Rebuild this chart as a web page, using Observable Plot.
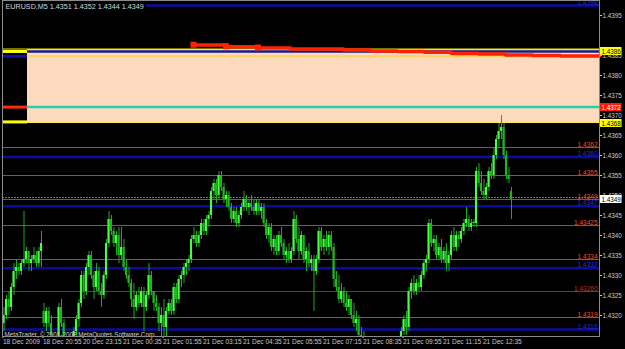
<!DOCTYPE html>
<html><head><meta charset="utf-8">
<script src="https://cdn.jsdelivr.net/npm/d3@7"></script>
<script src="https://cdn.jsdelivr.net/npm/@observablehq/plot@0.6"></script>
<style>html,body{margin:0;padding:0;background:#000;overflow:hidden}#chart{width:625px;height:349px}</style>
</head><body><div id="chart"></div>
<script>
// ---------- data ----------
const symbolName = "EURUSD,M5";
const headerOHLC = [1.4351, 1.4352, 1.4344, 1.4349];
const copyright = "MetaTrader, © 2001-2008 MetaQuotes Software Corp.";
// candle prices in pips above 1.4300, one per M5 bar
const basePrice = 1.4300;
const openPips = [18,20,24,22,27,31,32,31,33,34, 36,33,34,35,33,36,21,18,21,18, 14,12,14,22,18,14,12,11,12,16,
 19,23,30,26,32,35,30,27,31,26, 25,30,38,44,41,38,40,35,37,32, 30,28,24,22,25,23,26,22,25,30,
 26,23,22,18,20,17,21,23,21,27, 24,29,30,32,33,34,39,40,38,40, 43,41,44,45,51,53,50,55,52,49,
 50,47,44,46,43,45,47,49,47,48, 47,46,48,46,47,43,40,42,37,39, 36,40,38,35,36,34,36,44,39,36,
 40,34,36,33,34,31,34,41,37,39, 37,40,37,29,27,24,26,23,22,24, 20,18,19,15,13,14,11,10,9,10,
 11,12,10,9,10,12,11,12,13,12, 16,19,17,26,28,26,28,27,30,33, 34,43,38,39,35,37,34,36,33,35,
 40,37,40,39,41,43,44,42,43,43, 56,53,51,50,52,56,55,60,64,66, 67,60,55,51];
const highPips = [22,25,26,28,33,34,33,34,46,37, 36,35,37,36,37,41,23,22,22,20, 14,14,23,24,19,14,13,13,17,20,
 24,31,31,33,36,36,31,33,32,28, 31,39,46,45,42,41,42,42,39,34, 32,29,28,26,27,27,27,26,33,31,
 26,25,23,22,24,22,24,24,28,28, 30,31,33,34,35,40,42,41,41,44, 44,45,46,52,54,54,56,56,53,51,
 51,48,47,47,46,48,51,50,49,50, 49,49,49,48,48,44,43,43,40,40, 41,42,39,37,38,37,46,45,42,41,
 40,37,38,35,35,35,42,42,40,41, 41,41,38,31,30,28,27,26,25,24, 23,21,20,17,16,14,13,12,11,12,
 13,13,12,11,13,13,13,14,14,17, 20,21,27,29,30,29,30,31,34,35, 44,44,40,40,38,39,37,38,36,41,
 42,41,41,42,44,47,45,44,44,57, 58,56,54,53,57,58,62,65,68,70, 68,61,57,52];
const lowPips = [16,19,20,21,25,29,30,30,32,33, 31,31,33,32,32,32,17,16,17,14, 11,10,13,17,13,10,9,9,10,15,
 17,22,24,25,30,29,24,26,25,22, 24,29,37,40,37,35,33,34,31,29, 27,22,19,21,22,22,16,21,24,25,
 21,21,16,13,14,12,20,20,20,23, 23,27,28,30,31,33,38,37,37,39, 40,40,42,44,49,48,49,51,48,47,
 46,43,43,42,42,44,46,46,45,46, 45,45,45,44,42,39,38,36,35,35, 35,37,34,33,33,33,35,38,34,35,
 33,31,32,31,21,30,33,36,35,36, 35,36,27,26,23,23,22,21,20,19, 17,16,14,12,11,10,9,8,7,8,
 9,9,8,7,9,10,9,10,11,10, 15,15,16,24,25,25,26,26,29,31, 33,37,36,34,34,33,33,31,31,34,
 36,36,37,38,40,42,41,41,42,42, 52,50,49,49,51,54,54,59,62,64, 59,54,53,44];
const closePips = [20,24,22,27,31,32,31,33,34,36, 33,34,35,33,36,38,18,21,18,15, 12,13,22,18,14,12,11,12,16,19,
 23,30,26,32,35,30,27,31,26,25, 30,38,44,41,38,40,35,37,32,30, 28,24,22,25,23,26,22,25,30,26,
 23,22,18,20,17,21,23,21,27,24, 29,30,32,33,34,39,40,38,40,43, 41,44,45,51,53,50,55,52,49,50,
 47,44,46,43,45,47,49,47,48,47, 46,48,46,47,43,40,42,37,39,36, 40,38,35,36,34,36,44,39,36,40,
 34,36,33,34,31,34,41,37,39,37, 40,37,29,27,24,26,23,22,24,20, 18,19,15,13,14,11,10,9,10,11,
 12,10,9,10,12,11,12,13,12,16, 19,17,26,28,26,28,27,30,33,34, 43,38,39,35,37,34,36,33,35,40,
 37,40,39,41,43,44,42,43,43,56, 53,51,50,52,56,55,60,64,66,67, 60,55,54,49];

// time axis: a label every 16 bars
const timeTickBars = [0,16,32,48,64,80,96,112,128,144,160,176,192];
const timeLabels = ["18 Dec 2009","18 Dec 20:55","20 Dec 23:15","21 Dec 00:35","21 Dec 01:55","21 Dec 03:15",
 "21 Dec 04:35","21 Dec 05:55","21 Dec 07:15","21 Dec 08:35","21 Dec 09:55","21 Dec 11:15","21 Dec 12:35"];
// price axis labels
const priceTicks = [1.4395,1.4385,1.4380,1.4375,1.4370,1.4365,1.4360,1.4355,1.4350,1.4345,1.4340,1.4335,1.4330,1.4325,1.4320];

// rectangle object (anchored at a bar) and the lines crossing it
const zoneStartBar = 9.4;
const zoneTop = 1.43865, zoneBottom = 1.43680;
const zoneLinePrices = [1.43860, 1.43848, 1.43721, 1.43684];

// horizontal levels
const redLevels = [1.4362, 1.4355, 1.4349, 1.43425, 1.4334, 1.43195];
const redLabels = ["1.4362","1.4355","1.4349","1.43425","1.4334","1.4319"];
const darkRedLevels = [1.43260];
const darkRedLabels = ["1.43260"];
const blueLevels = [1.43975, 1.43596, 1.43473, 1.43318, 1.43165];
const blueLabels = ["1.4398","1.4360","1.4347","1.4332","1.4316"];
const bidPrice = 1.43495;

// slow moving average (red step line) and its markers
const maBars = [75.8, 89, 101.8, 114.6, 135.8, 146.6, 157.4, 168.2, 179, 189.8, 200.6, 211.4, 222.6, 238.2];
const maValues = [1.43876, 1.43872, 1.43869, 1.43866, 1.43864, 1.43861, 1.43860, 1.43858, 1.43855, 1.43854, 1.43851, 1.43850, 1.43849, 1.43849];
const maMarkBars = [75.8, 88.8, 101.6];
const maMarkValues = [1.43877, 1.43873, 1.43870];

// price tags on the right
const tagPrices = [1.4386, 1.4372, 1.4368, 1.4349];
const tagLabels = ["1.4386","1.4372","1.4368","1.4349"];

// ---------- styles ----------
const zoneLeftColors = ["#ffff00", "#1212a0", "#ff2a10", "#ffff00"];
const zoneInsideColors = ["#1b1b86", "#fdd46a", "#22d2b2", "#ffee33"];
const tagFills = ["#ffff00", "#ff1a00", "#ffff00", "#ffffff"];
const tagText = ["#000000", "#ffffff", "#000000", "#000000"];
const xDomain = [-0.6, 238.2];
const yDomain = [1.431475, 1.439875];
const tagBarsLeft = 238.4, tagBarsRight = 247.2, tagBarsMid = 242.8; // right margin, in bar units
const tagHalfHeight = 0.0001;
const FONT = "Liberation Sans, Arial, sans-serif";
const AXIS = "#c8c8c8";

// ---------- build ----------
const bars = openPips.map((o, i) => {
  const open = basePrice + o / 1e4, close = basePrice + closePips[i] / 1e4;
  const high = basePrice + highPips[i] / 1e4, low = basePrice + lowPips[i] / 1e4;
  const lo = Math.min(open, close), hi = Math.max(open, close);
  return {i, open, close, high: Math.max(high, hi), low: Math.min(low, lo),
          b1: lo, b2: hi === lo ? lo + 0.00003 : hi, up: close >= open};
});
const zoneLines = zoneLinePrices.map((p, k) => ({p, k}));
const ma = maBars.map((x, k) => ({x, y: maValues[k]}));
const maMarks = maMarkBars.map((x, k) => ({x, y: maMarkValues[k]}));
const redData = redLevels.map((p, k) => ({p, label: redLabels[k]}));
const darkRedData = darkRedLevels.map((p, k) => ({p, label: darkRedLabels[k]}));
const blueData = blueLevels.map((p, k) => ({p, label: blueLabels[k]}));
const tags = tagPrices.map((p, k) => ({p, label: tagLabels[k], k}));
const headerText = symbolName + " " + headerOHLC.map(v => v.toFixed(4)).join(" ");

const marks = [
  // zone rectangle
  Plot.rect([{a: zoneStartBar, t: zoneTop, b: zoneBottom}], {x1: "a", x2: xDomain[1], y1: "b", y2: "t", fill: "#fcdabd"}),
  ...zoneLines.map(d => Plot.ruleY([d], {y: "p", x1: xDomain[0], x2: zoneStartBar, stroke: zoneLeftColors[d.k], strokeWidth: 3})),
  ...zoneLines.map(d => Plot.ruleY([d], {y: "p", x1: zoneStartBar, x2: xDomain[1], stroke: zoneInsideColors[d.k], strokeWidth: d.k === 3 ? 1.5 : 2.5})),
  Plot.ruleY([zoneTop], {stroke: "#e8e800", strokeWidth: 1, dy: -0.5}),
  // levels
  Plot.ruleY(blueData, {y: "p", stroke: "#0c0ca0", strokeWidth: 2.5}),
  Plot.ruleY(redData, {y: "p", stroke: "#f02a10", strokeWidth: 1, shapeRendering: "crispEdges"}),
  Plot.ruleY(darkRedData, {y: "p", stroke: "#a02414", strokeWidth: 1, shapeRendering: "crispEdges"}),
  Plot.ruleY([bidPrice], {stroke: "#707070", strokeWidth: 1, strokeDasharray: "2,1", shapeRendering: "crispEdges"}),
  // moving average
  Plot.line(ma, {x: "x", y: "y", curve: "step-after", stroke: "#ff2200", strokeWidth: 3.5}),
  Plot.dot(maMarks, {x: "x", y: "y", symbol: "square", r: 3.4, fill: "#ff2200", stroke: "none"}),
  // candles
  Plot.ruleX(bars, {x: "i", y1: "low", y2: "high", stroke: "#22a822", strokeWidth: 1, clip: true}),
  Plot.rect(bars.filter(d => d.up), {x1: d => d.i - 0.42, x2: d => d.i + 0.42, y1: "b1", y2: "b2", fill: "#44ff44", clip: true}),
  Plot.rect(bars.filter(d => !d.up), {x1: d => d.i - 0.42, x2: d => d.i + 0.42, y1: "b1", y2: "b2", fill: "#1fb51f", clip: true}),
  // level labels
  Plot.text(redData, {y: "p", text: "label", frameAnchor: "right", textAnchor: "end", lineAnchor: "bottom", dx: -2, dy: -1, fill: "#e8502f", fontSize: 6.5}),
  Plot.text(darkRedData, {y: "p", text: "label", frameAnchor: "right", textAnchor: "end", lineAnchor: "bottom", dx: -2, dy: -1, fill: "#b03a22", fontSize: 6.5}),
  Plot.text(blueData, {y: "p", text: "label", frameAnchor: "right", textAnchor: "end", lineAnchor: "bottom", dx: -2, dy: -1, fill: "#2a2ad0", fontSize: 6.5}),
  // axes (the 1.4385 / 1.4350 ticks sit right by the price tags, as in the reference)
  Plot.axisY(priceTicks, {anchor: "right", tickSize: 2, tickPadding: 1, tickFormat: d => d.toFixed(4), fill: AXIS, stroke: AXIS, fontSize: 6.3}),
  Plot.axisX(timeTickBars, {anchor: "bottom", tickSize: 2, tickPadding: 1, tickFormat: d => timeLabels[timeTickBars.indexOf(d)], textAnchor: "start", dx: -1, fill: AXIS, stroke: AXIS, fontSize: 6.5}),
  // price tags
  ...tags.map(d => Plot.rect([d], {x1: tagBarsLeft, x2: tagBarsRight, y1: e => e.p - tagHalfHeight, y2: e => e.p + tagHalfHeight, fill: tagFills[d.k]})),
  ...tags.map(d => Plot.text([d], {x: tagBarsMid, y: "p", text: "label", fill: tagText[d.k], fontSize: 6.3})),
  // header and copyright
  Plot.text([headerText], {frameAnchor: "top-left", textAnchor: "start", lineAnchor: "top", dx: 3, dy: 3, fill: "#d8d8d8", stroke: "#000", strokeWidth: 5, fontSize: 7.2}),
  Plot.text([copyright], {frameAnchor: "bottom-left", textAnchor: "start", lineAnchor: "bottom", dx: 2, dy: 0, fill: "#d0d0d0", fontSize: 6.3}),
  Plot.frame({stroke: "#8a8a8a", strokeWidth: 1})
];

const chart = Plot.plot({
  width: 625, height: 349,
  marginTop: 0, marginBottom: 13, marginLeft: 2, marginRight: 26,
  style: {background: "#000", fontFamily: FONT, overflow: "visible"},
  x: {type: "linear", domain: xDomain},
  y: {type: "linear", domain: yDomain},
  marks
});
document.getElementById("chart").appendChild(chart);
</script>
</body></html>
